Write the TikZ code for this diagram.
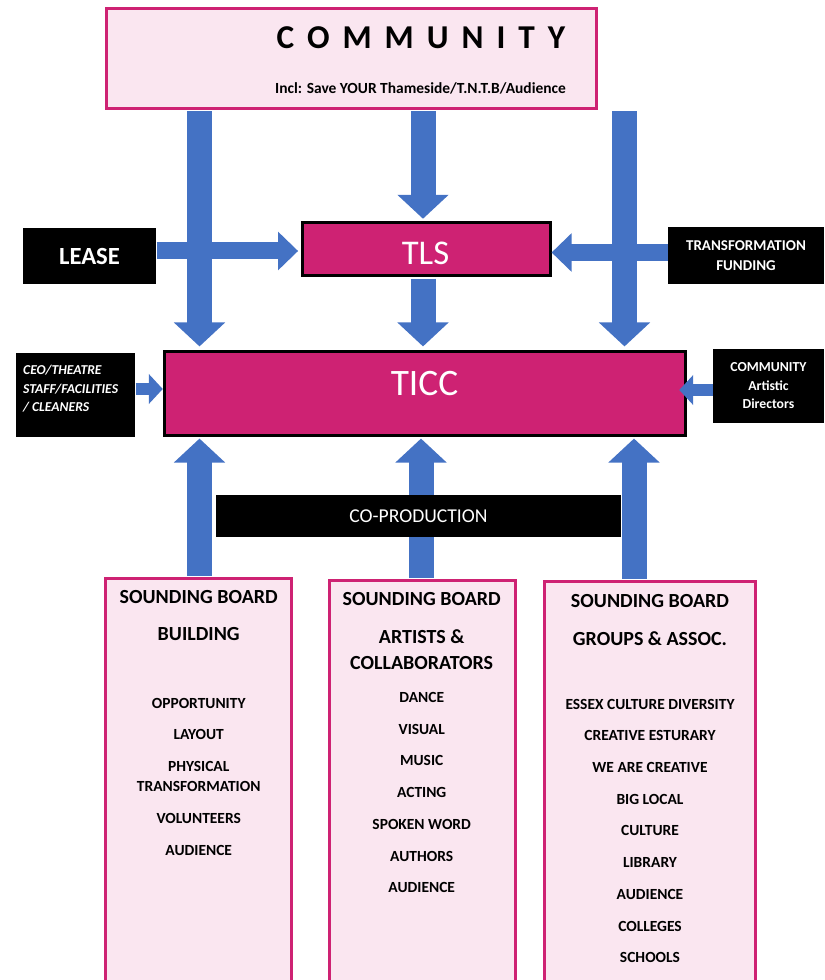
\documentclass[tikz,border=0pt]{standalone}
\usepackage{fontspec}
\setmainfont{Carlito}
\newfontfamily\spacedfont[LetterSpace=39]{Carlito}
\usetikzlibrary{arrows.meta}

\definecolor{ticblue}{RGB}{68,114,196}
\definecolor{ticmag}{RGB}{206,34,115}
\definecolor{ticpink}{RGB}{250,230,240}

\tikzset{every picture/.style={line width=0.75pt}}
\tikzset{
  pinkbox/.style={draw=ticmag, fill=ticpink, line width=2.25pt, inner sep=0pt},
  magbox/.style={draw=black, fill=ticmag, line width=2.6pt, inner sep=0pt},
  blackbox/.style={fill=black, text=white, inner sep=0pt, align=center},
  bigtext/.style={text=white, inner sep=0pt},
  headtext/.style={font=\bfseries\fontsize{15}{19.5}\selectfont, inner sep=0pt, align=center},
  itemtext/.style={font=\bfseries\fontsize{11.6}{15}\selectfont, inner sep=0pt, align=center},
  bigarrow/.style={draw=ticblue, line width=18.75pt, shorten <=1.1pt,
    -{Triangle[width=37.5pt,length=18pt]}},
  sidearrow/.style={draw=ticblue, line width=12.75pt,
    -{Triangle[width=28pt,length=15pt]}},
  smallarrow/.style={draw=ticblue, line width=9pt,
    -{Triangle[width=22pt,length=10.5pt]}},
}

\begin{document}
\begin{tikzpicture}[x=0.75pt,y=0.75pt,yscale=-1,xscale=1]
\useasboundingbox (0,0) rectangle (824,980);

% Community
\node[pinkbox, minimum width=367.5pt, minimum height=75pt] (comm) at (351.5,58.5) {};
\node[inner sep=0pt, font={\spacedfont\bfseries\fontsize{25}{30}\selectfont}] (commtitle) at (421,37.5) {COMMUNITY};
\node[inner sep=0pt, font=\bfseries\fontsize{11.6}{14}\selectfont] (commsub) at (420.5,88) {Incl: Save YOUR Thameside/T.N.T.B/Audience};

% TLS and TICC
\node[magbox, minimum width=186pt, minimum height=39.75pt] (tls) at (426.5,249) {};
\node[bigtext, font=\fontsize{26}{30}\selectfont] (tlstext) at (425.5,253) {TLS};
\node[magbox, minimum width=390.75pt, minimum height=63pt] (ticc) at (425,393.5) {};
\node[bigtext, font=\fontsize{28}{30}\selectfont] (ticctext) at (424.5,383.5) {TICC};

% Side boxes
\node[blackbox, minimum width=99.75pt, minimum height=42pt, font=\bfseries\fontsize{18.5}{22}\selectfont] (lease) at (89.5,256) {LEASE};
\node[blackbox, minimum width=117pt, minimum height=42.75pt, font=\bfseries\fontsize{11.25}{15}\selectfont] (tf) at (746,255.5) {TRANSFORMATION\\FUNDING};
\node[blackbox, minimum width=89.25pt, minimum height=63pt] (ceo) at (75.5,395) {};
\node[bigtext, anchor=west, align=left, font=\bfseries\itshape\fontsize{10.2}{13.9}\selectfont] (ceotext) at (22.7,389) {CEO/THEATRE\\STAFF/FACILITIES\\/ CLEANERS};
\node[blackbox, minimum width=83.25pt, minimum height=55.5pt, font=\bfseries\fontsize{10.3}{13.9}\selectfont] (cad) at (768.5,386) {COMMUNITY\\Artistic\\Directors};

% Sounding boards
\node[pinkbox, minimum width=139.5pt, minimum height=318pt, anchor=north] (sbbuild) at (198.5,577.1) {};
\node[pinkbox, minimum width=139.5pt, minimum height=318pt, anchor=north] (sbartist) at (422.5,579.4) {};
\node[pinkbox, minimum width=158.25pt, minimum height=318pt, anchor=north] (sbgroup) at (650,580.4) {};

\node[headtext] (buildh1) at (198.7,597.5) {SOUNDING BOARD};
\node[headtext] (buildh2) at (198.7,634) {BUILDING};
\foreach \y/\t [count=\i] in {703/OPPORTUNITY, 734.3/LAYOUT, 776.7/{PHYSICAL\\TRANSFORMATION}, 818.7/VOLUNTEERS, 850/AUDIENCE}
  \node[itemtext] (build\i) at (198.7,\y) {\t};

\node[headtext] (artisth1) at (421.7,599.3) {SOUNDING BOARD};
\node[headtext] (artisth2) at (421.7,649.7) {ARTISTS \&\\COLLABORATORS};
\foreach \y/\t [count=\i] in {697.3/DANCE, 729.3/VISUAL, 760.7/MUSIC, 792.7/ACTING, 824/SPOKEN WORD, 856/AUTHORS, 887.3/AUDIENCE}
  \node[itemtext] (artist\i) at (421.7,\y) {\t};

\node[headtext] (grouph1) at (650,600.7) {SOUNDING BOARD};
\node[headtext] (grouph2) at (650,638.3) {GROUPS \& ASSOC.};
\foreach \y/\t [count=\i] in {704.3/ESSEX CULTURE DIVERSITY, 735.3/CREATIVE ESTURARY, 767.7/WE ARE CREATIVE, 799/BIG LOCAL, 830.7/CULTURE, 862.7/LIBRARY, 894/AUDIENCE, 926/COLLEGES, 957.7/SCHOOLS}
  \node[itemtext] (group\i) at (650,\y) {\t};

% arrow lanes
\coordinate (xl) at (199.5,0);
\coordinate (xm) at (423,0);
\coordinate (xr) at (624.5,0);
\coordinate (um) at (421,0);
\coordinate (ur) at (634,0);
\coordinate (yl) at (0,251);
\coordinate (yt) at (0,252.5);
\coordinate (yc) at (0,389);
\coordinate (ya) at (0,390);

% down arrows
\draw[bigarrow, shorten >=2.5pt] (xl |- comm.south) -- (xl |- ticc.north);
\draw[bigarrow, shorten >=2.5pt] (xr |- comm.south) -- (xr |- ticc.north);
\draw[bigarrow, shorten >=1.5pt] (xm |- comm.south) -- (xm |- tls.north);
\draw[bigarrow, shorten >=2.5pt] (xm |- tls.south) -- (xm |- ticc.north);

% side arrows
\draw[sidearrow, shorten >=2pt] (yl -| lease.east) -- (yl -| tls.west);
\draw[sidearrow, shorten >=-0.5pt] (yt -| tf.west) -- (yt -| tls.east);
\draw[smallarrow] (yc -| ceo.east) -- (yc -| ticc.west);
\draw[smallarrow, shorten >=-6pt] (ya -| cad.west) -- (ya -| ticc.east);

% up arrows
\draw[bigarrow, shorten >=1pt] (xl |- sbbuild.north) -- (xl |- ticc.south);
\draw[bigarrow, shorten >=1pt] (um |- sbartist.north) -- (um |- ticc.south);
\draw[bigarrow, shorten >=1pt] (ur |- sbgroup.north) -- (ur |- ticc.south);

% co-production
\node[blackbox, minimum width=303.75pt, minimum height=31.5pt, font=\fontsize{14.7}{18}\selectfont] (coprod) at (418.5,516) {CO-PRODUCTION};

\end{tikzpicture}
\end{document}
